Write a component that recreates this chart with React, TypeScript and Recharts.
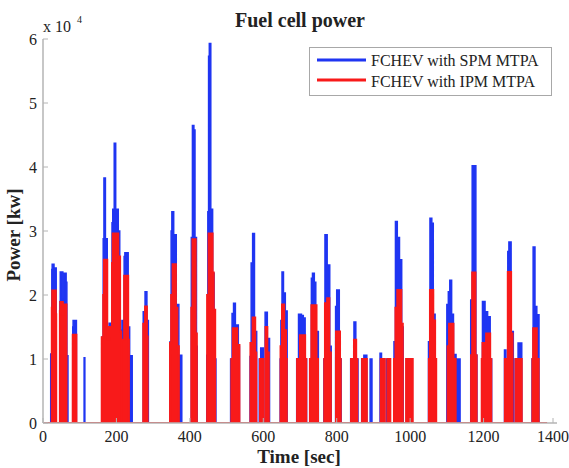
import React from 'react';
import { ComposedChart, Area, XAxis, YAxis } from 'recharts';

type Seg = [number, number, number];

const xTicks = [0, 200, 400, 600, 800, 1000, 1200, 1400];
const yTicks = [0, 10000, 20000, 30000, 40000, 50000, 60000];
const endTime = 1373;
const seriesNames = ['FCHEV with SPM MTPA', 'FCHEV with IPM MTPA'];

// each pulse: list of [start sec, end sec, power W]
const spmPulses: Seg[][] = [
  [[21, 23, 10800]],
  [[24, 25, 24000], [25, 30, 24800], [30, 36, 24200]],
  [[46, 47, 19000], [47, 54, 23600], [54, 55, 19500], [55, 63, 23400], [63, 65, 22000], [65, 68, 10500]],
  [[81, 82, 15000], [82, 91, 16000]],
  [[112, 114, 10200]],
  [[160, 164, 13400], [164, 166, 28800], [166, 170, 38300], [170, 175, 28800], [175, 180, 13000], [180, 184, 15600], [184, 188, 14000], [188, 190, 31300], [190, 194, 33400], [194, 198, 43700], [198, 205, 33400], [205, 209, 30000], [209, 213, 14500]],
  [[215, 221, 16000], [221, 223, 26000], [223, 232, 26600], [232, 236, 15000], [236, 243, 10500]],
  [[273, 278, 17400], [278, 283, 20500], [283, 287, 16000]],
  [[346, 349, 12700], [349, 351, 30000], [351, 356, 33000], [356, 363, 29400], [363, 370, 18500], [370, 378, 10600]],
  [[404, 407, 29000], [407, 411, 46500], [411, 414, 45800], [414, 418, 29000], [418, 420, 12000]],
  [[446, 449, 10600], [449, 451, 33000], [451, 453, 57300], [453, 457, 59300], [457, 462, 33400], [462, 466, 23400], [466, 471, 10000]],
  [[511, 515, 10000], [515, 519, 17100], [519, 524, 18700], [524, 532, 15300], [532, 535, 12000]],
  [[564, 567, 10400], [567, 571, 25000], [571, 576, 29600], [576, 582, 14300]],
  [[589, 593, 10000], [593, 600, 11700]],
  [[605, 611, 17300], [611, 617, 13200]],
  [[646, 648, 10000], [648, 651, 16000], [651, 655, 23600], [655, 660, 20300], [660, 665, 17500]],
  [[691, 696, 10000], [696, 704, 17000], [704, 709, 16800], [709, 714, 16400], [714, 718, 10000]],
  [[727, 731, 10000], [731, 734, 22600], [734, 739, 23400], [739, 743, 22000], [743, 750, 14300]],
  [[765, 768, 10000], [768, 774, 29400], [774, 781, 24700], [781, 785, 12000]],
  [[797, 800, 18200], [800, 807, 20800], [807, 812, 10000]],
  [[838, 847, 10000], [847, 852, 15800], [852, 858, 10000]],
  [[868, 874, 10000], [874, 882, 10600]],
  [[891, 896, 10000]],
  [[918, 922, 10900], [922, 925, 10000]],
  [[935, 938, 10000]],
  [[956, 960, 12700], [960, 965, 31500], [965, 971, 29000], [971, 977, 25500], [977, 981, 15000]],
  [[990, 1006, 10000]],
  [[1050, 1054, 12700], [1054, 1059, 32000], [1059, 1063, 31200], [1063, 1068, 17000], [1068, 1071, 10000]],
  [[1100, 1104, 18500], [1104, 1108, 20500], [1108, 1113, 22300], [1113, 1118, 17000], [1118, 1125, 10700], [1125, 1136, 10000]],
  [[1165, 1169, 19200], [1169, 1179, 40200], [1179, 1182, 10600]],
  [[1195, 1197, 10000], [1197, 1204, 19000], [1204, 1206, 15000], [1206, 1211, 17400], [1211, 1218, 16600], [1218, 1222, 10000]],
  [[1257, 1261, 11400], [1261, 1266, 10000], [1266, 1269, 26800], [1269, 1275, 28300], [1275, 1281, 14300]],
  [[1286, 1294, 10000], [1294, 1304, 12500]],
  [[1332, 1335, 10000], [1335, 1340, 27500], [1340, 1345, 18200], [1345, 1351, 16900]],
];

const ipmPulses: Seg[][] = [
  [[24, 25, 18000], [25, 35, 20700], [35, 36, 17000]],
  [[46, 47, 17500], [47, 54, 18900], [54, 55, 17000], [55, 64, 18500]],
  [[81, 91, 13800]],
  [[160, 164, 13400], [164, 166, 20000], [166, 175, 25500], [175, 180, 13000], [180, 184, 15000], [184, 188, 13500], [188, 190, 25000], [190, 205, 29600], [205, 210, 26000], [210, 213, 14300]],
  [[215, 221, 13000], [221, 232, 23000], [232, 234, 13000]],
  [[273, 278, 15500], [278, 283, 18200], [283, 285, 13500]],
  [[346, 349, 12500], [349, 353, 20000], [353, 362, 24800], [362, 366, 18000], [366, 370, 12000]],
  [[404, 407, 18000], [407, 416, 28700], [416, 419, 14000]],
  [[447, 451, 20000], [451, 462, 29600], [462, 465, 23500], [465, 469, 17700]],
  [[513, 517, 10000], [517, 529, 14800], [529, 535, 12200]],
  [[565, 571, 12500], [571, 578, 16500], [578, 581, 11000]],
  [[591, 600, 10000]],
  [[606, 611, 15000], [611, 615, 11000]],
  [[647, 651, 12000], [651, 657, 18500], [657, 662, 14500], [662, 664, 10000]],
  [[692, 700, 10000], [700, 714, 13700], [714, 717, 10000]],
  [[727, 731, 10000], [731, 745, 18400], [745, 749, 10000]],
  [[766, 768, 10000], [768, 774, 18700], [774, 780, 19500], [780, 784, 11000]],
  [[798, 809, 14300], [809, 811, 10000]],
  [[839, 847, 10000], [847, 853, 13000], [853, 856, 10000]],
  [[869, 882, 10000]],
  [[920, 931, 10000]],
  [[938, 946, 10000]],
  [[956, 960, 10000], [960, 965, 18000], [965, 976, 20800], [976, 980, 15500]],
  [[989, 1007, 10000]],
  [[1051, 1054, 10000], [1054, 1063, 20800], [1063, 1068, 16000], [1068, 1071, 10000]],
  [[1102, 1106, 12000], [1106, 1118, 15500], [1118, 1124, 10000]],
  [[1166, 1169, 10600], [1169, 1178, 23500], [1178, 1181, 10600]],
  [[1195, 1197, 10000], [1197, 1204, 12500], [1204, 1207, 10000], [1207, 1218, 14000], [1218, 1221, 10000]],
  [[1258, 1266, 10000], [1266, 1275, 23600], [1275, 1279, 14000]],
  [[1287, 1304, 10000]],
  [[1333, 1335, 10000], [1335, 1345, 14800], [1345, 1350, 10000]],
];

function buildSeries(pulses: Seg[][]) {
  const pts: { t: number; p: number }[] = [{ t: 0, p: 0 }];
  for (const pulse of pulses) {
    pts.push({ t: pulse[0][0], p: 0 });
    for (const [a, b, v] of pulse) {
      pts.push({ t: a, p: v });
      pts.push({ t: b, p: v });
    }
    pts.push({ t: pulse[pulse.length - 1][1], p: 0 });
  }
  pts.push({ t: endTime, p: 0 });
  return pts;
}

const spmData = buildSeries(spmPulses);
const ipmData = buildSeries(ipmPulses);

const BLUE = '#1f35f2';
const RED = '#f81a1a';
const AXIS = '#b4b4b4';
const FONT = '"Liberation Serif", "Times New Roman", serif';
const TEXT = '#222';

const XTick = (props: any) => {
  const { x, y, payload } = props;
  return (
    <g>
      <line x1={x} x2={x} y1={y - 8} y2={y - 13} stroke={AXIS} strokeWidth={1} />
      <text x={x} y={y} dy="0.71em" textAnchor="middle" fontSize={16} fontFamily={FONT} fill={TEXT}>
        {payload.value}
      </text>
    </g>
  );
};

const YTick = (props: any) => {
  const { x, y, payload } = props;
  return (
    <g>
      <line x1={x + 6} x2={x + 11} y1={y} y2={y} stroke={AXIS} strokeWidth={1} />
      <text x={x} y={y} dy="0.355em" textAnchor="end" fontSize={16} fontFamily={FONT} fill={TEXT}>
        {payload.value / 10000}
      </text>
    </g>
  );
};

export default function App() {
  return (
    <div style={{ position: 'absolute', left: 0, top: 0, width: 569, height: 468, background: '#fff' }}>
      <ComposedChart width={569} height={468} margin={{ top: 39, right: 12, bottom: 0, left: 0 }}>
        <XAxis
          dataKey="t"
          type="number"
          domain={[0, 1400]}
          ticks={xTicks}
          height={45}
          tickSize={0}
          tickMargin={8}
          axisLine={{ stroke: AXIS, strokeWidth: 1.5 }}
          tick={<XTick />}
          allowDataOverflow
        />
        <YAxis
          type="number"
          domain={[0, 60000]}
          ticks={yTicks}
          width={43}
          tickSize={0}
          tickMargin={6}
          axisLine={{ stroke: AXIS, strokeWidth: 1.5 }}
          tick={<YTick />}
          allowDataOverflow
        />
        <Area
          data={spmData}
          dataKey="p"
          type="linear"
          stroke={BLUE}
          strokeWidth={1.5}
          fill={BLUE}
          fillOpacity={1}
          isAnimationActive={false}
          dot={false}
          activeDot={false}
          name={seriesNames[0]}
        />
        <Area
          data={ipmData}
          dataKey="p"
          type="linear"
          stroke={RED}
          strokeWidth={2}
          fill={RED}
          fillOpacity={1}
          isAnimationActive={false}
          dot={false}
          activeDot={false}
          name={seriesNames[1]}
        />
      </ComposedChart>
      <svg width={569} height={468} style={{ position: 'absolute', left: 0, top: 0, pointerEvents: 'none' }}>
        <text x={300} y={27} textAnchor="middle" fontSize={20} fontWeight="bold" fontFamily={FONT} fill={TEXT}>
          Fuel cell power
        </text>
        <text x={43} y={32} fontSize={16} fontFamily={FONT} fill={TEXT}>x 10</text>
        <text x={77} y={23} fontSize={10} fontFamily={FONT} fill={TEXT}>4</text>
        <text
          transform="translate(20,235) rotate(-90)"
          textAnchor="middle"
          fontSize={19}
          fontWeight="bold"
          fontFamily={FONT}
          fill={TEXT}
        >
          Power [kw]
        </text>
        <text x={299} y={463} textAnchor="middle" fontSize={19} fontWeight="bold" fontFamily={FONT} fill={TEXT}>
          Time [sec]
        </text>
        <rect x={309.5} y={47.5} width={242} height={48} fill="#fff" stroke="#a8a8a8" strokeWidth={1} />
        <line x1={317} x2={366} y1={60} y2={60} stroke={BLUE} strokeWidth={3} />
        <line x1={317} x2={366} y1={80} y2={80} stroke={RED} strokeWidth={3} />
        <text x={371} y={66} fontSize={16} fontFamily={FONT} fill={TEXT}>{seriesNames[0]}</text>
        <text x={371} y={87} fontSize={16} fontFamily={FONT} fill={TEXT}>{seriesNames[1]}</text>
      </svg>
    </div>
  );
}
